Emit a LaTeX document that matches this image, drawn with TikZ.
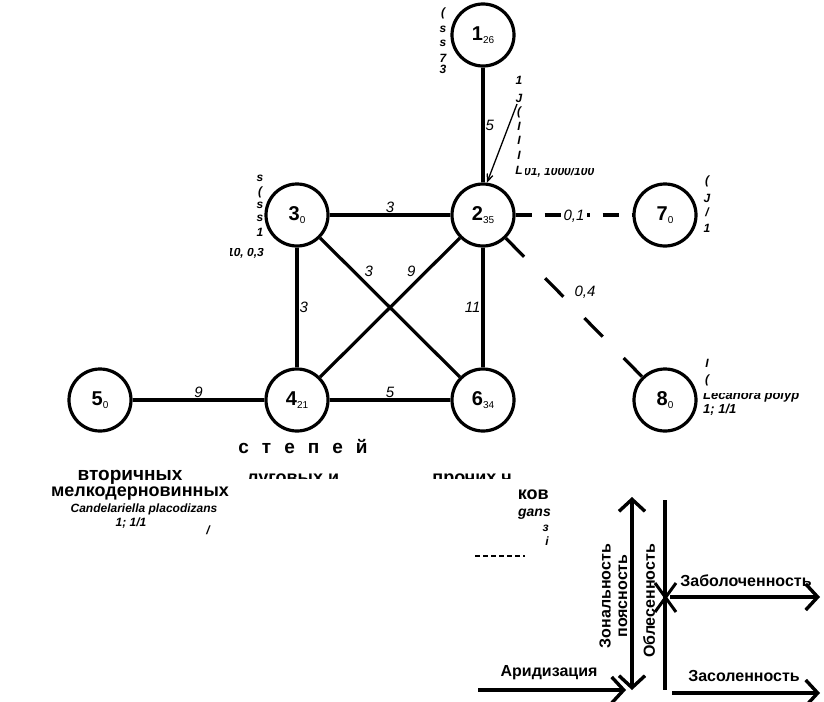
\documentclass[tikz,border=0pt]{standalone}
\usepackage{fontspec}
\setmainfont{Liberation Sans}
\usetikzlibrary{arrows.meta}
\tikzset{
  vtx/.style={circle,draw,line width=3.2pt,minimum size=62pt,inner sep=0pt,fill=white},
  edg/.style={line width=3.2pt},
  dedgA/.style={line width=3.2pt,dash pattern=on 16pt off 13pt},
  dedgB/.style={line width=3.2pt,dash pattern=on 26pt off 30pt},
  elab/.style={font=\fontsize{15}{15}\itshape,inner sep=1pt},
  frag/.style={font=\fontsize{12}{12}\bfseries\itshape,inner sep=0pt},
  bigword/.style={font=\fontsize{18}{18}\bfseries,inner sep=0pt},
  axlab/.style={font=\fontsize{16}{16}\bfseries,inner sep=0pt},
  ax/.style={line width=3.4pt},
  axarr/.style={line width=3.4pt,-{Straight Barb[length=12pt,width=26pt]}},
  axdbl/.style={line width=3.4pt,{Straight Barb[length=12pt,width=26pt]}-{Straight Barb[length=12pt,width=26pt]}}
}
\newcommand{\vl}[2]{{\fontsize{20}{20}\bfseries #1}\raisebox{-3.5pt}{\fontsize{10}{10}\selectfont #2}}
\begin{document}
\begin{tikzpicture}[x=1pt,y=-1pt]
\useasboundingbox (0,0) rectangle (824,701);
% vertices
\node[vtx] (n1) at (483,35) {\vl{1}{26}};
\node[vtx] (n2) at (483,215) {\vl{2}{35}};
\node[vtx] (n3) at (297,215) {\vl{3}{0}};
\node[vtx] (n7) at (665,215) {\vl{7}{0}};
\node[vtx] (n5) at (100,400) {\vl{5}{0}};
\node[vtx] (n4) at (297,400) {\vl{4}{21}};
\node[vtx] (n6) at (483,400) {\vl{6}{34}};
\node[vtx] (n8) at (665,400) {\vl{8}{0}};
% edges
\draw[edg] (n1) -- node[elab,right,pos=0.5]{5} (n2);
\draw[edg] (n3) -- node[elab,above]{3} (n2);
\draw[edg] (n3) -- node[elab,right]{3} (n4);
\draw[edg] (n2) -- node[elab,left]{11} (n6);
\draw[edg] (n3) -- node[elab,pos=0.3,above right]{3} (n6);
\draw[edg] (n4) -- node[elab,pos=0.7,above left]{9} (n2);
\draw[edg] (n5) -- node[elab,above]{9} (n4);
\draw[edg] (n4) -- node[elab,above]{5} (n6);
\draw[dedgA] (n2) -- node[elab,fill=white,inner sep=3pt,yshift=-1pt]{0,1} (n7);
\draw[dedgB] (n2) -- node[elab,pos=0.47,above right=2pt]{0,4} (n8);
% pointer
\coordinate (ptr) at (517,104);
\draw[line width=1.3pt,-{Straight Barb[length=7pt,width=6pt]}] (ptr) -- (n2.83);
% fragments near node 1
\node[frag] (f1a) at (443,13) {(};
\node[frag] (f1b) at (443,29) {s};
\node[frag] (f1c) at (443,43) {s};
\node[frag] (f1d) at (443,58) {7};
\node[frag] (f1e) at (443,69) {3};
% fragments right of node 2
\node[frag] (f2a) at (519,80) {1};
\node[frag] (f2b) at (519,98) {J};
\node[frag] (f2c) at (519,112) {(};
\node[frag] (f2d) at (519,126) {I};
\node[frag] (f2e) at (519,140) {I};
\node[frag] (f2f) at (519,155) {I};
\node[frag] (f2g) at (519,170) {L};
\begin{scope}
\clip (525,168) rectangle (640,180);
\node[frag,anchor=west] (f2h) at (524,172) {01, 1000/100};
\end{scope}
% fragments near node 3
\node[frag] (f3a) at (260,178) {s};
\node[frag] (f3b) at (260,192) {(};
\node[frag] (f3c) at (260,205) {s};
\node[frag] (f3d) at (260,218) {s};
\node[frag] (f3e) at (260,232) {1};
\begin{scope}
\clip (230,248) rectangle (266,262);
\node[frag,anchor=east] (f3f) at (264,253) {10, 0,3};
\end{scope}
% fragments near node 7
\node[frag] (f7a) at (707,181) {(};
\node[frag] (f7b) at (707,198) {J};
\node[frag] (f7c) at (707,212) {/};
\node[frag] (f7d) at (707,228) {1};
% fragments near node 8
\node[frag] (f8a) at (707,363) {I};
\node[frag] (f8b) at (707,380) {(};
\begin{scope}
\clip (700,393) rectangle (824,402);
\node[frag,anchor=west,font=\fontsize{13}{13}\bfseries\itshape] (f8c) at (703,396) {Lecanora polyp};
\end{scope}
\node[frag,anchor=west,font=\fontsize{13}{13}\bfseries\itshape] (f8d) at (703,410) {1; 1/1};
% bottom texts
\node[font=\fontsize{19}{19}\bfseries] (stp) at (303,447) {с\hspace{13pt}т\hspace{13pt}е\hspace{13pt}п\hspace{13pt}е\hspace{13pt}й};
\node[bigword,font=\fontsize{19}{19}\bfseries] (vt) at (130,477) {вторичных};
\node[bigword] (mk) at (140,494) {мелкодерновинных};
\node[font=\fontsize{12}{12}\bfseries\itshape,inner sep=0pt] (cp) at (144,509) {Candelariella placodizans};
\node[font=\fontsize{12}{12}\bfseries\itshape,inner sep=0pt] (cq) at (131,523) {1; 1/1};
\begin{scope}
\clip (240,472) rectangle (520,478);
\node[bigword,anchor=west] (lg) at (247,481) {луговых и};
\node[bigword,anchor=east] (pr) at (512,481) {прочих ч};
\end{scope}
\node[bigword,anchor=east] (kv) at (549,495) {ков};
\node[font=\fontsize{14}{14}\bfseries\itshape,inner sep=0pt,anchor=east] (gn) at (551,514) {gans};
\node[frag,anchor=east] (fa) at (549,528) {з};
\node[frag,anchor=east] (fi) at (549,541) {i};
\node[frag] (fs) at (208,530) {/};
\draw[line width=1.8pt,dash pattern=on 5pt off 3pt] (475,556) -- (525,556);
% ecological axes
\coordinate (vA) at (632,497);
\coordinate (vB) at (632,690);
\draw[axdbl] (vA) -- (vB);
\coordinate (lA) at (665,500);
\coordinate (lB) at (665,690);
\draw[ax] (lA) -- (lB);
\coordinate (xa1) at (655,583); \coordinate (xa2) at (676,612);
\coordinate (xb1) at (676,583); \coordinate (xb2) at (655,612);
\draw[line width=3pt] (xa1) -- (xa2);
\draw[line width=3pt] (xb1) -- (xb2);
\coordinate (zbA) at (670,597); \coordinate (zbB) at (820,597);
\draw[axarr] (zbA) -- (zbB);
\coordinate (zsA) at (672,693); \coordinate (zsB) at (820,693);
\draw[axarr] (zsA) -- (zsB);
\coordinate (arA) at (478,690); \coordinate (arB) at (626,690);
\draw[axarr] (arA) -- (arB);
\node[axlab] (tzb) at (746,581) {Заболоченность};
\node[axlab] (tzs) at (744,676) {Засоленность};
\node[axlab] (tar) at (549,673) {Аридизация};
\node[axlab,rotate=90] (tzn) at (605,596) {Зональность};
\node[axlab,rotate=90] (tps) at (623,596) {поясность};
\node[axlab,rotate=90] (tob) at (649,601) {Облесенность};
\end{tikzpicture}
\end{document}
